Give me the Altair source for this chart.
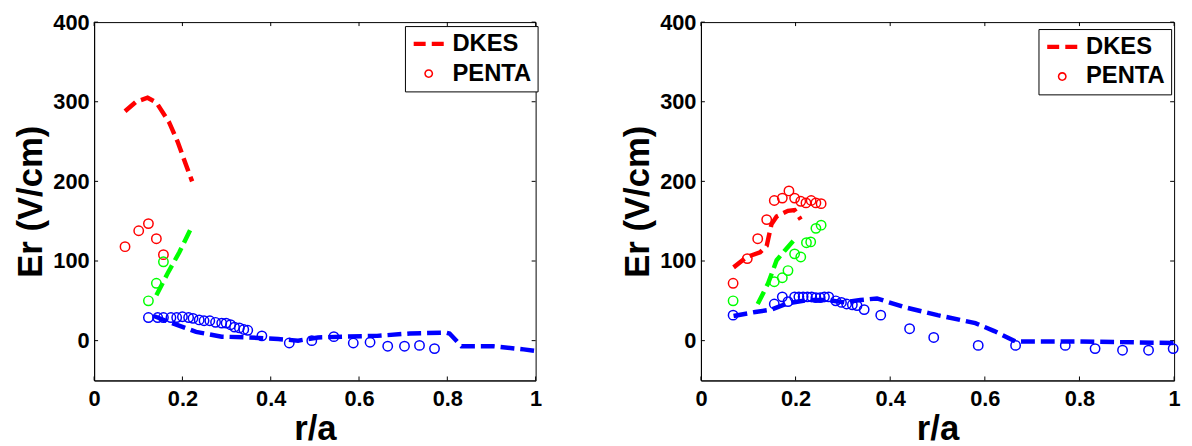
import altair as alt
import pandas as pd

FONT = "Liberation Sans"

XTICKS = [0, 0.2, 0.4, 0.6, 0.8, 1.0]
YTICKS = [0, 100, 200, 300, 400]

# ---------------- left panel ----------------
L_DKES_RED_R = [0.07, 0.095, 0.121, 0.141, 0.170, 0.189, 0.208, 0.222]
L_DKES_RED_ER = [288, 300, 305, 299, 274, 250, 221, 200]
L_DKES_GRN_R = [0.141, 0.166, 0.193, 0.222]
L_DKES_GRN_ER = [57, 84, 111, 144]
L_DKES_BLU_R = [0.135, 0.186, 0.231, 0.289, 0.35, 0.417, 0.462, 0.507, 0.567,
                0.641, 0.715, 0.798, 0.805, 0.832, 0.904, 0.973, 1.0]
L_DKES_BLU_ER = [31, 20, 11, 5, 4, 2, 0, 4, 5, 6, 9, 10, 9, -7, -7, -11, -13]

L_PENTA_RED_R = [0.07, 0.101, 0.123, 0.141, 0.157]
L_PENTA_RED_ER = [118, 138, 147, 128, 108]
L_PENTA_GRN_R = [0.123, 0.141, 0.157]
L_PENTA_GRN_ER = [50, 72, 99]
L_PENTA_BLU_R = [0.123, 0.144, 0.157, 0.174, 0.187, 0.200, 0.214, 0.224, 0.238,
                 0.249, 0.262, 0.275, 0.289, 0.299, 0.309, 0.318, 0.329, 0.339,
                 0.348, 0.380, 0.442, 0.493, 0.543, 0.587, 0.625, 0.665, 0.703,
                 0.737, 0.771]
L_PENTA_BLU_ER = [29, 29, 29, 29, 29, 30, 29, 28, 26, 25, 25, 23, 22, 22, 20, 17,
                  16, 14, 13, 6, -3, 0, 5, -3, -2, -7, -7, -6, -10]

# ---------------- right panel ----------------
R_DKES_RED_R = [0.069, 0.097, 0.125, 0.139, 0.149, 0.160, 0.184, 0.198, 0.211]
R_DKES_RED_ER = [92, 105, 111, 119, 146, 156, 163, 164, 152]
R_DKES_GRN_R = [0.120, 0.142, 0.160, 0.177, 0.195]
R_DKES_GRN_ER = [46, 72, 101, 113, 125]
R_DKES_BLU_R = [0.069, 0.115, 0.149, 0.184, 0.226, 0.268, 0.303, 0.337, 0.372,
                0.43, 0.50, 0.58, 0.62, 0.665, 0.80, 1.0]
R_DKES_BLU_ER = [31, 36, 39, 47, 51, 51, 48, 51, 53, 42, 32, 22, 12, -1, -1, -3]

R_PENTA_RED_R = [0.068, 0.098, 0.120, 0.139, 0.155, 0.172, 0.186, 0.198, 0.211,
                 0.222, 0.233, 0.243, 0.254]
R_PENTA_RED_ER = [72, 103, 128, 152, 176, 179, 188, 179, 175, 173, 176, 173, 172]
R_PENTA_GRN_R = [0.068, 0.155, 0.172, 0.184, 0.198, 0.211, 0.223, 0.232, 0.243, 0.254]
R_PENTA_GRN_ER = [50, 74, 79, 88, 109, 105, 123, 124, 141, 145]
R_PENTA_BLU_R = [0.068, 0.155, 0.172, 0.184, 0.198, 0.207, 0.216, 0.225, 0.234,
                 0.243, 0.252, 0.261, 0.270, 0.285, 0.297, 0.308, 0.320, 0.330,
                 0.345, 0.380, 0.441, 0.492, 0.586, 0.665, 0.770, 0.833, 0.891,
                 0.946, 0.998]
R_PENTA_BLU_ER = [32, 46, 55, 49, 55, 55, 55, 55, 55, 54, 54, 55, 55, 50, 48, 46,
                  45, 44, 39, 32, 15, 4, -6, -6, -6, -10, -12, -12, -10]

SPECIES = ["red", "green", "blue"]
COLORS = ["#ff0000", "#00ff00", "#0000ff"]
LEGEND_LABELS = ["DKES", "PENTA"]
# legend glyphs: two thick dashes, and a thin ring
DASH_PATH = "M-3.2,-0.43H-0.65V0.43H-3.2Z M0.65,-0.43H3.2V0.43H0.65Z"
RING_PATH = ("M0.95,0A0.95,0.95 0 1,1 -0.95,0A0.95,0.95 0 1,1 0.95,0Z "
             "M0.62,0A0.62,0.62 0 1,0 -0.62,0A0.62,0.62 0 1,0 0.62,0Z")


def frame(pairs, lab):
    rows = []
    for sp, rs, es in pairs:
        for r, e in zip(rs, es):
            rows.append({"r": r, "Er": e, "sp": sp, "lab": lab})
    return pd.DataFrame(rows)


xs = alt.Scale(domain=[0, 1], nice=False, zero=False)
ys = alt.Scale(domain=[-50, 400], nice=False, zero=False)
cs = alt.Scale(domain=SPECIES, range=COLORS)

xaxis = alt.Axis(values=XTICKS, format="~g", title="r/a", labelPadding=8,
                 titlePadding=3, labelFlush=False)
yaxis = alt.Axis(values=YTICKS, title="Er (V/cm)", labelPadding=5,
                 titlePadding=4, labelFlush=False)


def X(field="r"):
    return alt.X(f"{field}:Q", scale=xs, axis=xaxis)


def Y(field="Er"):
    return alt.Y(f"{field}:Q", scale=ys, axis=yaxis)


def panel(lines_df, pts_df, W, H, lx, ly):
    lines = alt.Chart(lines_df).mark_line(
        strokeWidth=4.5, strokeDash=[14, 6], strokeCap="butt"
    ).encode(x=X(), y=Y(), color=alt.Color("sp:N", scale=cs, legend=None),
             detail="sp:N")

    pts = alt.Chart(pts_df).mark_point(
        filled=False, size=90, strokeWidth=1.5, opacity=1, shape="circle"
    ).encode(x=X(), y=Y(), color=alt.Color("sp:N", scale=cs, legend=None))

    legend = alt.Legend(
        title=None, orient="none", legendX=lx, legendY=ly, padding=6,
        rowPadding=6, strokeColor="black", fillColor="white", cornerRadius=0,
        labelFont=FONT, labelFontSize=24, labelFontWeight="bold",
        labelColor="black", symbolSize=90, symbolOffset=6, labelOffset=12,
        symbolFillColor="#ff0000", symbolStrokeColor="#ff0000",
        symbolStrokeWidth=0, symbolOpacity=1,
    )
    red_rows = pd.concat([lines_df[lines_df.sp == "red"],
                          pts_df[pts_df.sp == "red"]])
    key = alt.Chart(red_rows).mark_point(
        filled=True, size=90, opacity=0, color="#ff0000"
    ).encode(
        x=X(), y=Y(),
        shape=alt.Shape("lab:N", scale=alt.Scale(domain=LEGEND_LABELS,
                                                 range=[DASH_PATH, RING_PATH]),
                        legend=legend),
    )

    xt = pd.DataFrame({"r": XTICKS})
    yt = pd.DataFrame({"Er": YTICKS})
    tb = alt.Chart(xt).mark_rule(color="black", strokeWidth=1).encode(
        x=X(), y=alt.value(H), y2=alt.value(H - 4))
    tt = alt.Chart(xt).mark_rule(color="black", strokeWidth=1).encode(
        x=X(), y=alt.value(0), y2=alt.value(4))
    tl = alt.Chart(yt).mark_rule(color="black", strokeWidth=1).encode(
        y=Y(), x=alt.value(0), x2=alt.value(4))
    tr = alt.Chart(yt).mark_rule(color="black", strokeWidth=1).encode(
        y=Y(), x=alt.value(W), x2=alt.value(W - 4))

    return alt.layer(tb, tt, tl, tr, lines, pts, key).properties(width=W, height=H)


left_lines = frame([("red", L_DKES_RED_R, L_DKES_RED_ER),
                    ("green", L_DKES_GRN_R, L_DKES_GRN_ER),
                    ("blue", L_DKES_BLU_R, L_DKES_BLU_ER)], "DKES")
left_pts = frame([("red", L_PENTA_RED_R, L_PENTA_RED_ER),
                  ("green", L_PENTA_GRN_R, L_PENTA_GRN_ER),
                  ("blue", L_PENTA_BLU_R, L_PENTA_BLU_ER)], "PENTA")
right_lines = frame([("red", R_DKES_RED_R, R_DKES_RED_ER),
                     ("green", R_DKES_GRN_R, R_DKES_GRN_ER),
                     ("blue", R_DKES_BLU_R, R_DKES_BLU_ER)], "DKES")
right_pts = frame([("red", R_PENTA_RED_R, R_PENTA_RED_ER),
                   ("green", R_PENTA_GRN_R, R_PENTA_GRN_ER),
                   ("blue", R_PENTA_BLU_R, R_PENTA_BLU_ER)], "PENTA")

left = panel(left_lines, left_pts, 446, 362, 314, 4)
right = panel(right_lines, right_pts, 478, 362, 341, 7)

chart = alt.hconcat(left, right, spacing=75).resolve_scale(
    shape="independent", color="independent"
).properties(
    padding={"left": 5, "top": 0, "right": 0, "bottom": 0},
    background="white",
).configure_view(
    stroke="black", strokeWidth=1
).configure_axis(
    labelFont=FONT, labelFontWeight="bold", labelFontSize=22, labelColor="black",
    titleFont=FONT, titleFontWeight="bold", titleFontSize=35, titleColor="black",
    domainColor="black", domainWidth=1, grid=False, ticks=False,
).configure_legend(
    labelLimit=0
)

chart.save("out.html", embed_options={"renderer": "svg", "actions": False})
